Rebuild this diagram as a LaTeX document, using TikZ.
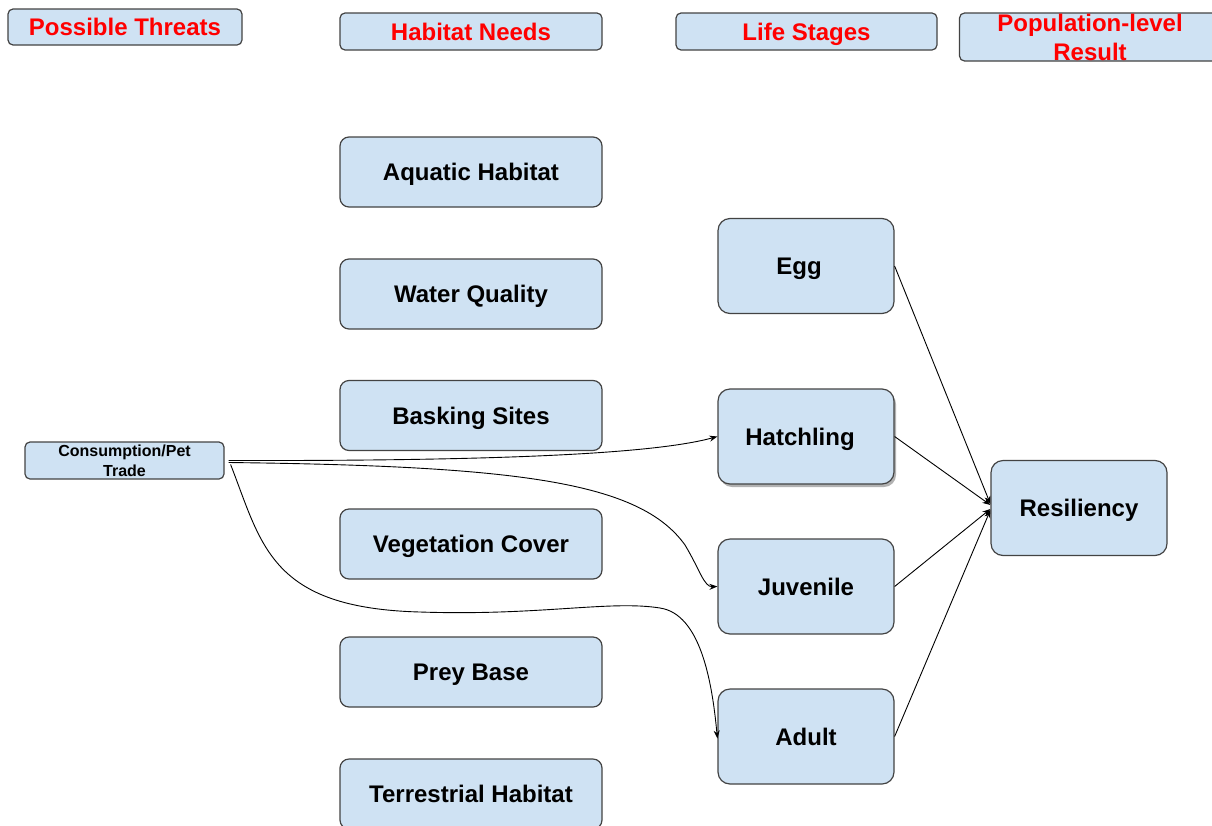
\documentclass[tikz,border=0pt]{standalone}
\usepackage{fontspec}
\setmainfont{Liberation Sans}
\usetikzlibrary{arrows.meta,shadows}
\definecolor{boxfill}{RGB}{207,226,243}
\definecolor{boxline}{RGB}{67,67,67}
\definecolor{headred}{RGB}{255,0,0}
\begin{document}
\begin{tikzpicture}[x=1pt,y=-1pt,
  box/.style={draw=boxline, line width=1.2pt, fill=boxfill, rounded corners=9pt,
    inner sep=0pt, text height=17.2pt, text depth=0pt,
    font=\fontsize{24}{29}\selectfont\bfseries},
  hdr/.style={box, text=headred, minimum height=37pt, rounded corners=5pt},
  hdrtxt/.style={font=\fontsize{24}{29}\selectfont\bfseries, text=headred, align=center},
  need/.style={box, minimum width=262pt, minimum height=70pt},
  stage/.style={box, minimum width=176pt, minimum height=95pt, rounded corners=12pt},
  link/.style={draw=black, line width=0.9pt, -{Stealth[length=8pt,width=6pt]}},
]
\useasboundingbox (0,0) rectangle (1212,825);
\clip (0,0) rectangle (1212,825);

% column headings
\node[hdr, minimum width=234pt, minimum height=36pt] (threats) at (125,27) {Possible Threats};
\node[hdr, minimum width=262pt] (needs) at (471,31.5) {Habitat Needs};
\node[hdr, minimum width=261pt] (stages) at (806.5,31.5) {Life Stages};
\node[hdr, minimum width=261pt, minimum height=48pt,
  label={[hdrtxt]center:Population-level\\Result}] (pop) at (1090,37) {};

% habitat needs
\node[need] (aquatic) at (471,172) {Aquatic Habitat};
\node[need] (water) at (471,294) {Water Quality};
\node[need] (basking) at (471,415.5) {Basking Sites};
\node[need] (veg) at (471,544) {Vegetation Cover};
\node[need] (prey) at (471,672) {Prey Base};
\node[need] (terr) at (471,794) {Terrestrial Habitat};

% life stages
\node[stage] (egg) at (806,266) {\hspace*{-14pt}Egg};
\node[stage, drop shadow={shadow xshift=2pt, shadow yshift=-3pt, opacity=0.3, fill=black}]
  (hatch) at (806,436.5) {\hspace*{-12pt}Hatchling};
\node[stage] (juv) at (806,586.5) {Juvenile};
\node[stage] (adult) at (806,736.5) {Adult};

% population-level result
\node[stage] (res) at (1079,508) {Resiliency};

% threat
\node[box, minimum width=199pt, minimum height=37pt, rounded corners=5pt,
  label={[font=\fontsize{16}{20}\selectfont\bfseries, align=center]center:Consumption/Pet\\Trade}]
  (cons) at (124.5,460.5) {};

% threat connectors
\draw[link] ([xshift=4pt,yshift=0pt]cons.east) .. controls (480,461) and (650,455) .. (hatch.west);
\draw[link] ([xshift=4pt,yshift=-2pt]cons.east) .. controls (520,466) and (640,482) .. (685,545)
  .. controls (700,570) and (704,587) .. (juv.west);
\draw[link] ([xshift=6pt,yshift=-4pt]cons.east) .. controls (262,545) and (270,608) .. (420,612)
  .. controls (540,616) and (610,600) .. (660,608)
  .. controls (700,614) and (712,680) .. ([yshift=-2pt]adult.west);

% stage connectors
\draw[link] (egg.east) -- ([yshift=4pt]res.west);
\draw[link] (hatch.east) -- ([yshift=3pt]res.west);
\draw[link] (juv.east) -- ([yshift=-1pt]res.west);
\draw[link] (adult.east) -- ([yshift=-2pt]res.west);
\end{tikzpicture}
\end{document}
